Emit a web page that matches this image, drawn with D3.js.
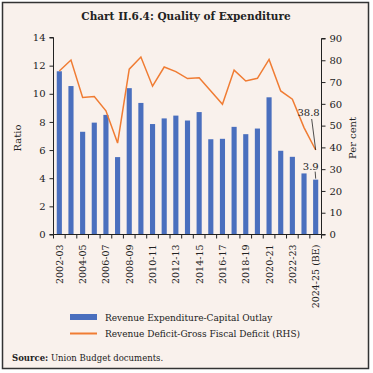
<!DOCTYPE html>
<html><head><meta charset="utf-8">
<script src="https://cdn.jsdelivr.net/npm/d3@7"></script>
<style>html,body{margin:0;padding:0;background:#fff;}svg{display:block;}</style>
</head><body>
<svg id="chart" width="373" height="373"></svg>
<script>
const categories = ["2002-03","2003-04","2004-05","2005-06","2006-07","2007-08","2008-09","2009-10","2010-11","2011-12","2012-13","2013-14","2014-15","2015-16","2016-17","2017-18","2018-19","2019-20","2020-21","2021-22","2022-23","2023-24","2024-25 (BE)"];
const ratioValues = [11.6,10.55,7.3,7.95,8.5,5.5,10.4,9.35,7.85,8.25,8.45,8.1,8.7,6.77,6.8,7.65,7.13,7.53,9.75,5.95,5.52,4.34,3.9];
const perCentValues = [75.1,80.1,62.9,63.4,56.8,42,75.9,81.5,68.1,76.9,74.8,71.6,72.0,65.9,59.8,75.5,70.5,71.7,80.4,65.9,62.1,49.1,38.8];
const leftTicks = [0,2,4,6,8,10,12,14];
const rightTicks = [0,10,20,30,40,50,60,70,80,90];
const shownLabels = ["2002-03","2004-05","2006-07","2008-09","2010-11","2012-13","2014-15","2016-17","2018-19","2020-21","2022-23","2024-25 (BE)"];
const title = "Chart II.6.4: Quality of Expenditure";
const legendLabels = ["Revenue Expenditure-Capital Outlay","Revenue Deficit-Gross Fiscal Deficit (RHS)"];

const svg = d3.select("#chart");
const serif = "'DejaVu Serif', serif";
const bg = "#f9f1ec", blue = "#4a6fbe", orange = "#f07c33", dark = "#222";

svg.append("rect").attr("x",0).attr("y",0).attr("width",373).attr("height",373).attr("fill","#fff");
svg.append("rect").attr("x",2.5).attr("y",2.5).attr("width",366).attr("height",366)
  .attr("fill",bg).attr("stroke","#333").attr("stroke-width",1.5);

svg.append("text").attr("x",186).attr("y",20).attr("text-anchor","middle")
  .attr("font-family",serif).attr("font-weight","bold").attr("font-size",10.5).attr("fill",dark).text(title);

const pLeft = 53.5, pRight = 321.5, pTop = 37.5, pBottom = 234.5;
const x = d3.scaleBand().domain(categories).range([pLeft,pRight]).paddingInner(0.56).paddingOuter(0.28);
const yL = d3.scaleLinear().domain([0,14]).range([pBottom,pTop]);
const yR = d3.scaleLinear().domain([0,90]).range([pBottom,pTop+1]);

// bars
svg.append("g").selectAll("rect").data(categories).join("rect")
  .attr("x",d=>x(d)).attr("width",x.bandwidth())
  .attr("y",(d,i)=>yL(ratioValues[i])).attr("height",(d,i)=>pBottom-yL(ratioValues[i]))
  .attr("fill",blue);

// line
const line = d3.line().x((d,i)=>x(categories[i])+x.bandwidth()/2).y(d=>yR(d));
svg.append("path").datum(perCentValues).attr("d",line).attr("fill","none")
  .attr("stroke",orange).attr("stroke-width",1.5);

// left axis
const gL = svg.append("g").attr("transform",`translate(${pLeft},0)`)
  .call(d3.axisLeft(yL).tickValues(leftTicks).tickSize(4).tickPadding(4));
// right axis
const gR = svg.append("g").attr("transform",`translate(${pRight},0)`)
  .call(d3.axisRight(yR).tickValues(rightTicks).tickSize(4).tickPadding(4));
[gL,gR].forEach(g=>{
  g.select(".domain").attr("stroke",dark).attr("stroke-width",1);
  g.selectAll(".tick line").attr("stroke",dark);
  g.selectAll("text").attr("font-family",serif).attr("font-size",10).attr("fill",dark);
});
gL.select(".domain").attr("d",`M-4,${pTop}H0V${pBottom}H-4`);
gR.select(".domain").attr("d",`M4,${pTop+1}H0V${pBottom}H4`);

// x axis
const gX = svg.append("g").attr("transform",`translate(0,${pBottom})`);
gX.append("line").attr("x1",pLeft).attr("x2",pRight).attr("stroke",dark);
const bw = (pRight-pLeft)/categories.length;
gX.selectAll("line.tk").data(d3.range(categories.length+1)).join("line").attr("class","tk")
  .attr("x1",i=> pLeft + i*bw).attr("x2",i=> pLeft + i*bw)
  .attr("y1",0).attr("y2",4).attr("stroke",dark);
gX.selectAll("text").data(shownLabels).join("text")
  .attr("transform",d=>`translate(${x(d)+x.bandwidth()/2+3.5},10) rotate(-90)`)
  .attr("text-anchor","end").attr("font-family",serif).attr("font-size",9.5).attr("fill",dark).text(d=>d);

// axis titles
svg.append("text").attr("transform","translate(21,138) rotate(-90)").attr("text-anchor","middle")
  .attr("font-family",serif).attr("font-size",10).attr("fill",dark).text("Ratio");
svg.append("text").attr("transform","translate(356,138) rotate(-90)").attr("text-anchor","middle")
  .attr("font-family",serif).attr("font-size",10).attr("fill",dark).text("Per cent");

// annotations
const lastCat = categories[categories.length-1];
const lx = x(lastCat)+x.bandwidth()/2;
const lastLine = perCentValues[perCentValues.length-1];
const lastBar = ratioValues[ratioValues.length-1];
svg.append("line").attr("x1",lx-4).attr("y1",yR(lastLine)-31).attr("x2",lx).attr("y2",yR(lastLine)).attr("stroke",dark).attr("stroke-width",0.8);
svg.append("text").attr("x",lx+4).attr("y",yR(lastLine)-34).attr("text-anchor","end")
  .attr("font-family",serif).attr("font-size",10).attr("fill",dark).text(lastLine.toFixed(1));
svg.append("line").attr("x1",lx-0.5).attr("y1",yL(lastBar)-8).attr("x2",lx).attr("y2",yL(lastBar)-1).attr("stroke",dark).attr("stroke-width",0.8);
svg.append("text").attr("x",lx+3).attr("y",yL(lastBar)-10).attr("text-anchor","end")
  .attr("font-family",serif).attr("font-size",10).attr("fill",dark).text(lastBar.toFixed(1));

// legend
const lg = svg.append("g");
lg.append("rect").attr("x",70).attr("y",314).attr("width",27).attr("height",6).attr("fill",blue);
lg.append("text").attr("x",105).attr("y",320.5).attr("font-family",serif).attr("font-size",9).attr("fill",dark).text(legendLabels[0]);
lg.append("line").attr("x1",70).attr("x2",97).attr("y1",333.5).attr("y2",333.5).attr("stroke",orange).attr("stroke-width",2);
lg.append("text").attr("x",105).attr("y",337).attr("font-family",serif).attr("font-size",9).attr("fill",dark).text(legendLabels[1]);

// source
const src = svg.append("text").attr("x",12).attr("y",361).attr("font-family",serif).attr("font-size",8.5).attr("fill",dark);
src.append("tspan").attr("font-weight","bold").text("Source:");
src.append("tspan").text(" Union Budget documents.");
</script>
</body></html>
